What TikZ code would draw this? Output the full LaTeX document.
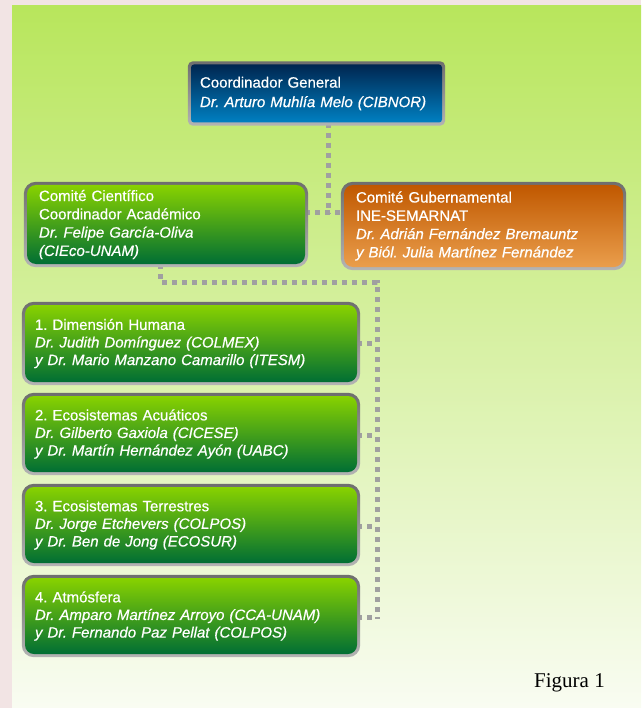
\documentclass[tikz,border=0pt]{standalone}
\usepackage{fontspec}
\setmainfont[FakeBold=0.4]{Liberation Sans}
\newfontfamily\boxfont[FakeBold=0.6]{Liberation Sans}
\newfontfamily\figfont{Liberation Serif}
\usetikzlibrary{backgrounds}
\definecolor{pinkbg}{RGB}{242,228,228}
\definecolor{paneltop}{RGB}{184,230,92}
\definecolor{panelbot}{RGB}{249,252,242}
\definecolor{btop}{RGB}{0,38,80}
\definecolor{bbot}{RGB}{0,128,194}
\definecolor{gtop}{RGB}{136,210,0}
\definecolor{gbot}{RGB}{0,110,52}
\definecolor{otop}{RGB}{192,88,0}
\definecolor{obot}{RGB}{234,158,76}
\definecolor{frametop}{RGB}{110,110,110}
\definecolor{framebot}{RGB}{180,180,180}
\definecolor{dotgray}{RGB}{160,160,160}
\frenchspacing
\begin{document}
\begin{tikzpicture}[x=1pt,y=-1pt,
  box/.style={rounded corners=9pt, text=white, align=left, inner ysep=2pt,
    font=\boxfont\fontsize{15}{18.3}\selectfont\frenchspacing, anchor=center},
  greenbox/.style={box, top color=gtop, bottom color=gbot, inner xsep=10pt,
    text width=312pt, minimum height=76pt, font=\boxfont\fontsize{15}{17.6}\selectfont\frenchspacing},
  conn/.style={draw=dotgray, line width=5pt, dash pattern=on 5pt off 5pt},
  frame/.style={top color=frametop, bottom color=framebot}]
\useasboundingbox (0,0) rectangle (641,708);

\node[box, top color=btop, bottom color=bbot, rounded corners=3pt, inner xsep=9pt,
  text width=233pt, minimum height=58pt, font=\boxfont\fontsize{15}{19.5}\selectfont\frenchspacing] (coord) at (316.5,93.5)
  {Coordinador General\\\textit{Dr. Arturo Muhlía Melo (CIBNOR)}};

\node[greenbox, inner xsep=12pt, text width=254pt, minimum height=79pt,
  font=\boxfont\fontsize{15}{18.3}\selectfont\frenchspacing] (cc) at (166,224.5)
  {Comité Científico\\Coordinador Académico\\\textit{Dr. Felipe García-Oliva}\\\textit{(CIEco-UNAM)}};

\node[box, top color=otop, bottom color=obot, inner xsep=12pt, text width=255pt,
  minimum height=82pt] (cg) at (483.5,226)
  {Comité Gubernamental\\INE-SEMARNAT\\\textit{Dr. Adrián Fernández Bremauntz}\\\textit{y Biól. Julia Martínez Fernández}};

\node[greenbox, minimum height=77pt] (b1) at (191,343.5)
  {1. Dimensión Humana\\\textit{Dr. Judith Domínguez (COLMEX)}\\\textit{y Dr. Mario Manzano Camarillo (ITESM)}};
\node[greenbox] (b2) at (191,434)
  {2. Ecosistemas Acuáticos\\\textit{Dr. Gilberto Gaxiola (CICESE)}\\\textit{y Dr. Martín Hernández Ayón (UABC)}};
\node[greenbox] (b3) at (191,525)
  {3. Ecosistemas Terrestres\\\textit{Dr. Jorge Etchevers (COLPOS)}\\\textit{y Dr. Ben de Jong (ECOSUR)}};
\node[greenbox] (b4) at (191,616)
  {4. Atmósfera\\\textit{Dr. Amparo Martínez Arroyo (CCA-UNAM)}\\\textit{y Dr. Fernando Paz Pellat (COLPOS)}};

\node[font=\figfont\fontsize{21}{24}\selectfont, inner sep=0pt] (fig) at (569.5,683) {Figura 1};

\coordinate (j1) at (328,213);
\coordinate (k1) at (160,282);
\coordinate (k2) at (377,282);
\coordinate (k3) at (377,619);
\coordinate (s1) at (377,343);
\coordinate (s2) at (377,435);
\coordinate (s3) at (377,526);
\coordinate (s4) at (377,617);

\begin{scope}[on background layer]
  \fill[pinkbg] (0,0) rectangle (641,708);
  \shade[top color=paneltop, bottom color=panelbot] (12,6) rectangle (641,708);
  \draw[conn] (coord.south -| j1) -- (j1);
  \draw[conn] (cc.east |- j1) -- (cg.west |- j1);
  \draw[conn] (cc.south -| k1) -- (k1) -- (k2) -- (k3);
  \foreach \b/\s in {b1/s1,b2/s2,b3/s3,b4/s4}
    \draw[conn] (\b.east |- \s) -- (\s);
  \foreach \n/\r in {coord/5,cc/12,cg/12,b1/12,b2/12,b3/12,b4/12}
    \shade[frame, rounded corners=\r pt] ([shift={(-3,-3)}]\n.north west) rectangle ([shift={(3,3)}]\n.south east);
\end{scope}
\end{tikzpicture}
\end{document}
